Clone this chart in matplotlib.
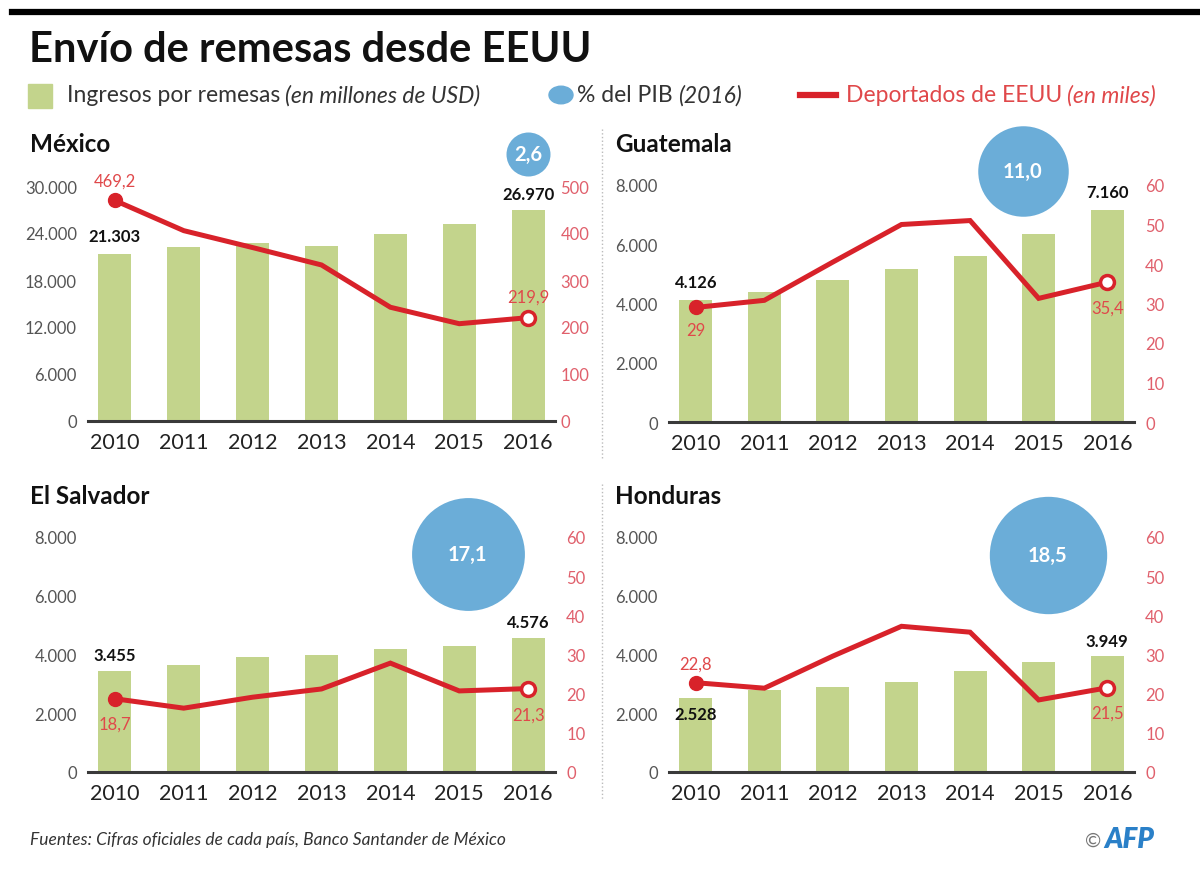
import matplotlib
matplotlib.use('Agg')
import matplotlib.pyplot as plt
from matplotlib.patches import Rectangle, Circle
from matplotlib.lines import Line2D
from matplotlib.ticker import FuncFormatter

plt.rcParams['font.family'] = ['Lato', 'DejaVu Sans']

# datos
anyos = [2010, 2011, 2012, 2013, 2014, 2015, 2016]
paises = ['México', 'Guatemala', 'El Salvador', 'Honduras']

remesas_mexico = [21303, 22200, 22700, 22300, 23900, 25200, 26970]
deportados_mexico = [469.2, 405, 369, 332, 242, 207, 219.9]
remesas_guatemala = [4126, 4400, 4800, 5150, 5600, 6350, 7160]
deportados_guatemala = [29, 30.8, 40.5, 50, 51, 31.3, 35.4]
remesas_salvador = [3455, 3650, 3900, 3970, 4200, 4280, 4576]
deportados_salvador = [18.7, 16.3, 19.1, 21.2, 27.8, 20.7, 21.3]
remesas_honduras = [2528, 2800, 2900, 3080, 3430, 3730, 3949]
deportados_honduras = [22.8, 21.4, 29.6, 37.2, 35.7, 18.4, 21.5]

pib_2016 = [2.6, 11.0, 17.1, 18.5]

remesas = [remesas_mexico, remesas_guatemala, remesas_salvador, remesas_honduras]
deportados = [deportados_mexico, deportados_guatemala, deportados_salvador, deportados_honduras]

VERDE = '#c3d48c'
AZUL = '#6badd8'
ROJO = '#d8222a'
ROJO_TXT = '#e0484a'
GRIS = '#555555'

W, H = 1200, 879
fig = plt.figure(figsize=(12, 8.79), dpi=100)


def fx(x):
    return x / W


def fy(y):
    return 1 - y / H


def miles(v, pos=None):
    return '{:,.0f}'.format(v).replace(',', '.')


def decimal(v):
    if v == int(v):
        return str(int(v))
    return '{:.1f}'.format(v).replace('.', ',')


def escribir_tramos(x, y, tramos, size, color):
    r = fig.canvas.get_renderer()
    x = fx(x)
    for texto, estilo in tramos:
        t = fig.text(x, fy(y), texto, fontsize=size, color=color, style=estilo,
                     va='center', ha='left')
        bb = t.get_window_extent(renderer=r)
        x += bb.width / fig.bbox.width + 5 / W


# cabecera
fig.add_artist(Line2D([fx(12), fx(1200)], [fy(13), fy(13)], color='black', lw=4.5))
fig.text(fx(29), fy(50), 'Envío de remesas desde EEUU', fontsize=30, fontweight='bold',
         va='center', ha='left', color='#111111')

# leyenda
fig.add_artist(Rectangle((fx(28), fy(109)), fx(24), 24 / H, color=VERDE))
escribir_tramos(67, 96, [('Ingresos por remesas', 'normal'),
                         ('(en millones de USD)', 'italic')], 16.5, '#333333')
fig.add_artist(Circle((fx(561), fy(96)), 12 / W, color=AZUL))
escribir_tramos(577, 96, [('% del PIB', 'normal'),
                          ('(2016)', 'italic')], 16.5, '#333333')
fig.add_artist(Line2D([fx(800), fx(836)], [fy(96), fy(96)], color=ROJO, lw=4.5))
escribir_tramos(846, 96, [('Deportados de EEUU', 'normal'),
                          ('(en miles)', 'italic')], 16.5, ROJO_TXT)

# separador vertical
fig.add_artist(Line2D([fx(602), fx(602)], [fy(130), fy(460)], color='#bbbbbb', lw=1, ls=':'))
fig.add_artist(Line2D([fx(602), fx(602)], [fy(485), fy(800)], color='#bbbbbb', lw=1, ls=':'))

# cajas de los paneles: izquierda, arriba, derecha, abajo (pixeles)
cajas = [(88, 187, 555, 422), (669, 186, 1134, 423), (88, 538, 555, 773), (669, 538, 1134, 773)]
titulos_pos = [(30, 145), (615, 145), (30, 497), (615, 497)]
limites_izq = [(30000, 6000), (8000, 2000), (8000, 2000), (8000, 2000)]
limites_der = [(500, 100), (60, 10), (60, 10), (60, 10)]
circulo_pos = [(6.0, 1.136), (4.77, 1.06), (5.12, 0.928), (5.13, 0.923)]
# desplazamiento de etiquetas de la linea (primera, ultima), en puntos
off_linea = [(14, 15), (-16, -18), (-18, -19), (14, -18)]
# desplazamiento de etiquetas de barras (primera, ultima)
off_barra = [(13, 11), (13, 13), (11, 11), (-12, 11)]

x = list(range(len(anyos)))

for i, pais in enumerate(paises):
    l, t, r, b = cajas[i]
    ax = fig.add_axes([fx(l), fy(b), (r - l) / W, (b - t) / H])
    ax2 = ax.twinx()
    ax.set_zorder(ax2.get_zorder() - 1)
    ax2.patch.set_visible(False)

    ax.bar(x, remesas[i], width=0.48, color=VERDE, zorder=2)
    ax.set_xlim(-0.39, 6.39)
    ymax, paso = limites_izq[i]
    ax.set_ylim(0, ymax)
    ax.set_yticks(range(0, ymax + 1, paso))
    ax.yaxis.set_major_formatter(FuncFormatter(miles))
    ax.set_xticks(x)
    ax.set_xticklabels([str(a) for a in anyos])
    ax.tick_params(axis='x', length=0, pad=8, labelsize=15.5, labelcolor='#222222')
    ax.tick_params(axis='y', length=0, pad=8, labelsize=12, labelcolor=GRIS)
    for s in ['top', 'right', 'left']:
        ax.spines[s].set_visible(False)
    ax.spines['bottom'].set_color('#3a3a3a')
    ax.spines['bottom'].set_linewidth(2.2)
    ax.spines['bottom'].set_zorder(5)

    dmax, dpaso = limites_der[i]
    ax2.plot(x, deportados[i], color=ROJO, lw=3.6, zorder=3, solid_joinstyle='miter')
    ax2.plot(x[0], deportados[i][0], 'o', color=ROJO, ms=10, zorder=4)
    ax2.plot(x[-1], deportados[i][-1], 'o', mfc='white', mec=ROJO, mew=2.5, ms=10, zorder=4)
    ax2.set_ylim(0, dmax)
    ax2.set_yticks(range(0, dmax + 1, dpaso))
    ax2.tick_params(axis='y', length=0, pad=4 if i == 0 else 8, labelsize=12, labelcolor='#e0606c')
    for s in ['top', 'right', 'left', 'bottom']:
        ax2.spines[s].set_visible(False)

    # etiquetas de barras
    for j, off in zip([0, -1], off_barra[i]):
        ax2.annotate(miles(remesas[i][j]), (x[j], remesas[i][j]),
                     xycoords=ax.transData, xytext=(0, off), textcoords='offset points',
                     ha='center', va='center', fontsize=12, fontweight='bold',
                     color='#111111', zorder=6)
    # etiquetas de la linea
    for j, off in zip([0, -1], off_linea[i]):
        ax2.annotate(decimal(deportados[i][j]), (x[j], deportados[i][j]),
                     xytext=(0, off), textcoords='offset points',
                     ha='center', va='center', fontsize=12, color=ROJO_TXT, zorder=6)

    # circulo del % del PIB
    cx, cy = circulo_pos[i]
    ax2.scatter([cx], [cy], s=[386 * pib_2016[i]], color=AZUL, zorder=7, clip_on=False,
                transform=ax2.get_xaxis_transform(), linewidths=0)
    ax2.text(cx, cy, '{:.1f}'.format(pib_2016[i]).replace('.', ','),
             transform=ax2.get_xaxis_transform(),
             ha='center', va='center', fontsize=14.5, fontweight='bold', color='white', zorder=8)

    tx, ty = titulos_pos[i]
    fig.text(fx(tx), fy(ty), pais, fontsize=17.5, fontweight='bold', color='#111111',
             ha='left', va='center')

# pie
fig.text(fx(30), fy(840), 'Fuentes: Cifras oficiales de cada país, Banco Santander de México',
         fontsize=12.5, style='italic', color='#333333', ha='left', va='center')
fig.text(fx(1101), fy(841), '©', fontsize=14, color='#777777', ha='right', va='center')
fig.text(fx(1104), fy(840), 'AFP', fontsize=20, style='italic', fontweight='heavy',
         color='#2a80c8', ha='left', va='center')

fig.savefig('out.png', dpi=100)
